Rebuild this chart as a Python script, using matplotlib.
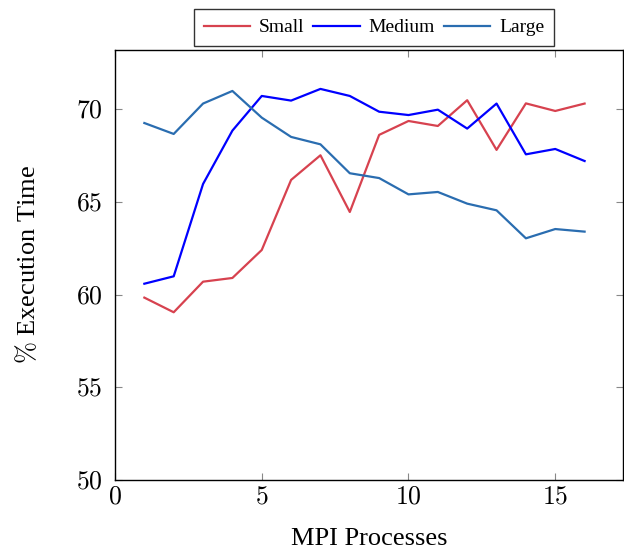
import matplotlib
matplotlib.use("Agg")
import matplotlib.pyplot as plt

# data
procs = list(range(1, 17))
small = [59.84, 59.05, 60.70, 60.90, 62.41, 66.19, 67.52, 64.46,
         68.62, 69.37, 69.10, 70.49, 67.81, 70.32, 69.91, 70.31]
medium = [60.59, 60.99, 65.97, 68.85, 70.72, 70.47, 71.10, 70.72,
          69.87, 69.69, 69.98, 68.96, 70.31, 67.57, 67.86, 67.21]
large = [69.26, 68.67, 70.31, 70.99, 69.55, 68.51, 68.11, 66.55,
         66.29, 65.41, 65.54, 64.91, 64.55, 63.04, 63.54, 63.40]

x_ticks = [0, 5, 10, 15]
y_ticks = [50, 55, 60, 65, 70]

plt.rcParams["font.family"] = "Liberation Serif"
plt.rcParams["mathtext.fontset"] = "cm"

fig = plt.figure(figsize=(6.24, 5.53), dpi=100)
ax = fig.add_axes([0.1843, 0.132, 0.8137, 0.7776])

ax.plot(procs, small, color="#d7424f", lw=1.6, label="Small")
ax.plot(procs, medium, color="#0000ff", lw=1.6, label="Medium")
ax.plot(procs, large, color="#2a6db0", lw=1.6, label="Large")

ax.set_xlim(0, 17.3)
ax.set_ylim(50, 73.2)
ax.set_xticks(x_ticks)
ax.set_yticks(y_ticks)
ax.set_xticklabels([f"${t}$" for t in x_ticks])
ax.set_yticklabels([f"${t}$" for t in y_ticks])
ax.tick_params(direction="in", top=True, right=True, length=5, width=0.8,
               color="#888888", labelsize=18.5)
ax.tick_params(axis="y", pad=9)
ax.tick_params(axis="x", pad=5)
for s in ax.spines.values():
    s.set_linewidth(1.0)

ax.set_xlabel("MPI Processes", fontsize=19, labelpad=14)
ax.set_ylabel(r"$\%$ Execution Time", fontsize=19, labelpad=26)

leg = ax.legend(loc="lower center", bbox_to_anchor=(0.51, 1.0), ncol=3,
                fontsize=14, frameon=True, fancybox=False, edgecolor="black",
                handlelength=2.4, columnspacing=0.45, handletextpad=0.45,
                borderpad=0.5, borderaxespad=0.2)
leg.get_frame().set_linewidth(1.0)

fig.savefig("out.png", dpi=100)
